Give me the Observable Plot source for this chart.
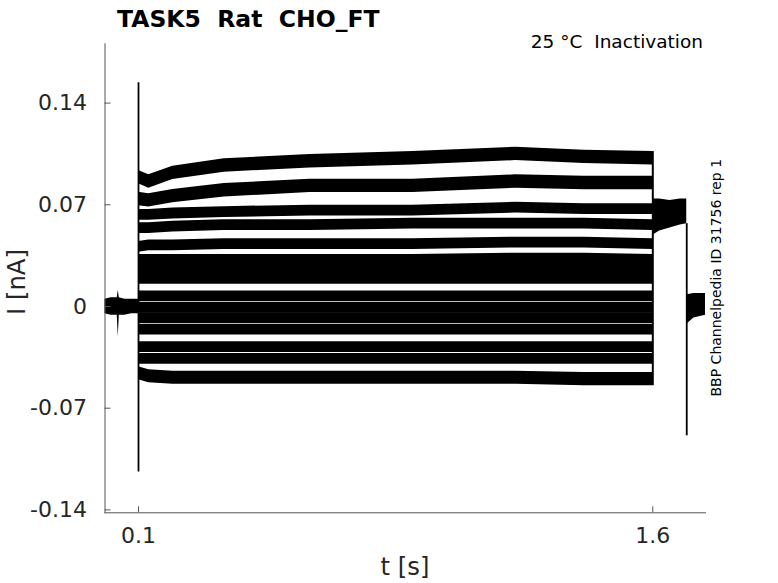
<!DOCTYPE html>
<html><head><meta charset="utf-8">
<script src="https://cdn.jsdelivr.net/npm/d3@7"></script>
<script src="https://cdn.jsdelivr.net/npm/@observablehq/plot@0.6"></script>
<style>body{margin:0;background:#fff} #chart{width:778px;height:583px}</style>
</head><body><div id="chart"></div>
<script>
// ---- data (t in s, I in nA) ----
const pulseT = [0.1, 0.13, 0.2, 0.35, 0.6, 0.9, 1.2, 1.4, 1.6];
const trace1  = [0.089, 0.086, 0.092, 0.097, 0.100, 0.102, 0.105, 0.103, 0.102];
const trace2  = [0.074, 0.073, 0.076, 0.080, 0.083, 0.083, 0.086, 0.085, 0.085];
const trace3  = [0.063, 0.063, 0.064, 0.065, 0.066, 0.066, 0.068, 0.067, 0.067];
const trace4  = [0.054, 0.054, 0.055, 0.056, 0.056, 0.057, 0.057, 0.057, 0.056];
const trace5  = [0.041, 0.042, 0.042, 0.043, 0.043, 0.043, 0.044, 0.044, 0.043];
const trace6  = [0.032, 0.032, 0.032, 0.032, 0.032, 0.032, 0.033, 0.033, 0.032];
const trace7  = [0.026, 0.026, 0.026, 0.026, 0.026, 0.026, 0.026, 0.026, 0.026];
const trace8  = [0.019, 0.019, 0.019, 0.019, 0.019, 0.019, 0.019, 0.019, 0.019];
const trace9  = [0.007, 0.007, 0.007, 0.007, 0.007, 0.007, 0.007, 0.007, 0.007];
const trace10 = [-0.001, -0.001, -0.001, -0.001, -0.001, -0.001, -0.001, -0.001, -0.001];
const trace11 = [-0.008, -0.008, -0.008, -0.008, -0.008, -0.008, -0.008, -0.008, -0.008];
const trace12 = [-0.016, -0.016, -0.016, -0.016, -0.016, -0.016, -0.016, -0.016, -0.016];
const trace13 = [-0.028, -0.028, -0.028, -0.028, -0.028, -0.028, -0.028, -0.028, -0.028];
const trace14 = [-0.036, -0.036, -0.036, -0.036, -0.036, -0.036, -0.036, -0.036, -0.036];
const trace15 = [-0.046, -0.048, -0.049, -0.049, -0.049, -0.049, -0.049, -0.050, -0.050];
const traces = [trace1, trace2, trace3, trace4, trace5, trace6, trace7, trace8,
                trace9, trace10, trace11, trace12, trace13, trace14, trace15];
const traceNoise = [0.0046, 0.0046, 0.0037, 0.0037, 0.0037, 0.0037, 0.0037, 0.0037,
                    0.0037, 0.0037, 0.0037, 0.0037, 0.0037, 0.0037, 0.0045];

// holding before the step (all sweeps overlap)
const preT  = [0.0023, 0.02, 0.038, 0.041, 0.044, 0.06, 0.08, 0.1];
const preLo = [-0.005, -0.006, -0.006, -0.021, -0.006, -0.006, -0.005, -0.005];
const preHi = [0.005, 0.006, 0.006, 0.011, 0.006, 0.005, 0.005, 0.005];
// test pulse after the step (all sweeps overlap)
const postT  = [1.6, 1.62, 1.65, 1.68, 1.699];
const postLo = [0.049, 0.052, 0.054, 0.056, 0.057];
const postHi = [0.074, 0.074, 0.073, 0.074, 0.074];
// return to holding
const tailT  = [1.70, 1.72, 1.7537];
const tailLo = [-0.012, -0.008, -0.006];
const tailHi = [0.008, 0.009, 0.009];
// capacitive transients
const spikeT  = [0.1, 1.699];
const spikeLo = [-0.114, -0.089];
const spikeHi = [0.154, 0.057];

const xTicks = [0.1, 1.6];
const yTicks = [-0.14, -0.07, 0, 0.07, 0.14];
const xDomain = [0.0023, 1.7537];
const yDomain = [-0.142, 0.1808];

// ---- tables for the library ----
const bands = [];
traces.forEach((tr, i) => tr.forEach((v, j) =>
  bands.push({id: "s" + i, t: pulseT[j], lo: v - traceNoise[i], hi: v + traceNoise[i]})));
preT.forEach((t, j) => bands.push({id: "pre", t, lo: preLo[j], hi: preHi[j]}));
postT.forEach((t, j) => bands.push({id: "post", t, lo: postLo[j], hi: postHi[j]}));
tailT.forEach((t, j) => bands.push({id: "tail", t, lo: tailLo[j], hi: tailHi[j]}));

const endIdx = pulseT.length - 1;
const stepEnd = {
  t: pulseT[endIdx],
  lo: d3.min(traces, (tr, i) => tr[endIdx] - traceNoise[i]),
  hi: d3.max(traces, (tr, i) => tr[endIdx] + traceNoise[i])
};
const spikes = spikeT.map((t, j) => ({t, lo: spikeLo[j], hi: spikeHi[j]}));

const axisColor = "#555";
const plot = Plot.plot({
  width: 778, height: 583,
  marginLeft: 104.5, marginRight: 73, marginTop: 43.3, marginBottom: 70.7,
  x: {domain: xDomain},
  y: {domain: yDomain},
  style: {fontFamily: "DejaVu Sans", fontSize: "22px", color: "#262626", background: "white"},
  marks: [
    Plot.areaY(bands, {x: "t", y1: "lo", y2: "hi", z: "id", fill: "black", curve: "linear"}),
    Plot.ruleX([stepEnd], {x: "t", y1: "lo", y2: "hi", stroke: "black", strokeWidth: 2}),
    Plot.ruleX(spikes, {x: "t", y1: "lo", y2: "hi", stroke: "black", strokeWidth: 1.8}),
    Plot.frame({anchor: "left", stroke: axisColor}),
    Plot.frame({anchor: "bottom", stroke: axisColor}),
    Plot.axisY({ticks: yTicks, tickSize: -6, tickPadding: 24, tickFormat: d => String(d),
                label: null, stroke: axisColor}),
    Plot.axisX({ticks: xTicks, tickSize: -6, tickPadding: 20.7, tickFormat: d => String(d),
                label: null, stroke: axisColor})
  ]
});
document.getElementById("chart").appendChild(plot);

const svg = d3.select(plot);
const txt = (x, y, s, size, opts = {}) => {
  const t = svg.append("text").attr("x", x).attr("y", y).text(s)
    .attr("font-family", "DejaVu Sans").attr("font-size", size)
    .attr("fill", opts.fill || "#000").style("white-space", "pre")
    .attr("text-anchor", opts.anchor || "start");
  if (opts.weight) t.attr("font-weight", opts.weight);
  if (opts.rotate) t.attr("transform", `rotate(${opts.rotate},${x},${y})`);
  return t;
};
txt(117, 27, "TASK5  Rat  CHO_FT", 23.5, {weight: "bold"});
txt(703, 48, "25 °C  Inactivation", 18.5, {anchor: "end"});
txt(721, 277.7, "BBP Channelpedia ID 31756 rep 1", 14, {anchor: "middle", rotate: -90});
txt(24.5, 282, "I [nA]", 24.3, {anchor: "middle", rotate: -90, fill: "#262626"});
txt(405, 575, "t [s]", 24.3, {anchor: "middle", fill: "#262626"});
</script></body></html>
